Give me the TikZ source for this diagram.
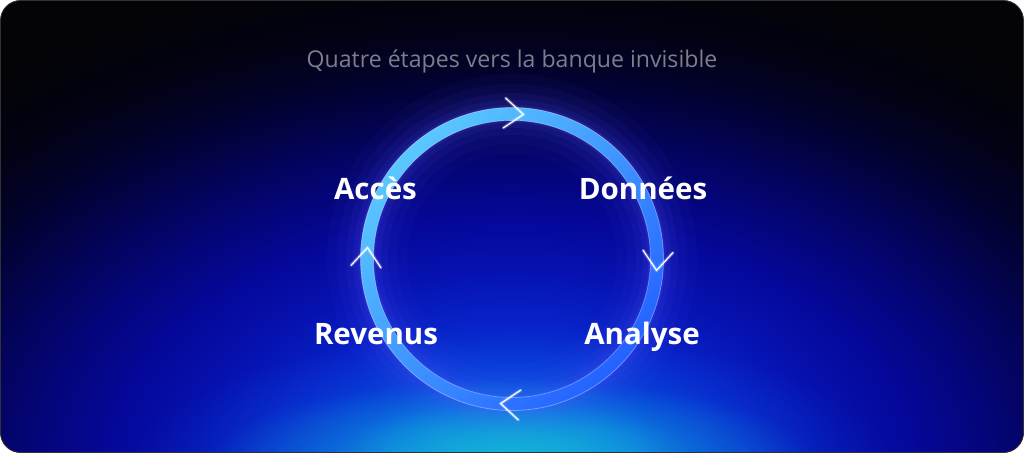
\documentclass[tikz,border=0pt]{standalone}
\usepackage{fontspec}
\setmainfont{Open Sans}
\usetikzlibrary{fadings}
\definecolor{bgdark}{HTML}{030308}
\definecolor{c0}{HTML}{1AB8D8}
\definecolor{c1}{HTML}{1090DC}
\definecolor{c2}{HTML}{0A5EE6}
\definecolor{c3}{HTML}{0838D8}
\definecolor{c4}{HTML}{0822C8}
\definecolor{c5}{HTML}{0612B0}
\definecolor{c6}{HTML}{05089A}
\definecolor{c7}{HTML}{040578}
\definecolor{c8}{HTML}{030352}
\definecolor{c9}{HTML}{02022C}
\definecolor{c10}{HTML}{020212}
\definecolor{c11}{HTML}{030308}
\definecolor{cyanglow}{HTML}{14B4D8}
\definecolor{blueglow}{HTML}{0A6AE8}
\definecolor{ringA}{HTML}{5AC8FF}
\definecolor{ringB}{HTML}{2462FF}
\definecolor{glowc}{HTML}{5A5CFF}
\definecolor{titlegray}{HTML}{7E7E8A}
\pgfdeclareradialshading{bgshade}{\pgfpoint{0bp}{0bp}}{color(0bp)=(c0); color(1.5bp)=(c1); color(3bp)=(c2); color(5bp)=(c3); color(7.5bp)=(c4); color(10bp)=(c5); color(12.5bp)=(c6); color(15bp)=(c7); color(17.5bp)=(c8); color(20bp)=(c9); color(22.5bp)=(c10); color(25bp)=(c11); color(50bp)=(c11)}
\tikzfading[name=softfade, inner color=transparent!0, outer color=transparent!100]
\tikzset{
  lbl/.style={text=white, font=\fontsize{29.5}{32}\selectfont\bfseries, anchor=base, inner sep=0pt},
  ttl/.style={text=titlegray, font=\fontsize{23.1}{26}\selectfont, anchor=base, inner sep=0pt},
  chevglow/.style={white, opacity=0.25, line width=3.5pt, line cap=round, line join=round},
  chevline/.style={white, line width=1.2pt, line cap=round, line join=miter},
}
\begin{document}
\begin{tikzpicture}[x=1pt,y=1pt]
\useasboundingbox (0,0) rectangle (1024,453);
\begin{scope}
  \clip[rounded corners=20pt] (0.5,0.5) rectangle (1023.5,452.5);
  \fill[bgdark] (0,0) rectangle (1024,453);
  \shade[shading=bgshade] (512,-17) ellipse [x radius=800, y radius=500];
  \fill[blueglow, path fading=softfade, fill opacity=0.6] (512,-10) ellipse [x radius=380, y radius=130];
  \fill[cyanglow, path fading=softfade, fill opacity=0.8] (512,-6) ellipse [x radius=300, y radius=80];
  \fill[cyanglow, path fading=softfade, fill opacity=0.7] (512,-4) ellipse [x radius=180, y radius=55];
\end{scope}
\draw[rounded corners=20pt, draw=black!80, line width=0.8pt] (0.5,0.5) rectangle (1023.5,452.5);
\coordinate (c) at (512,194);
% glow
\foreach \w/\o in {80/0.04, 60/0.05, 42/0.07, 28/0.09, 18/0.12} {
  \draw[glowc, line width=\w pt, opacity=\o] (c) circle[radius=145];
}
% ring
\shade[even odd rule, top color=ringA, bottom color=ringB, shading angle=45]
  (c) circle[radius=151.5] (c) circle[radius=138.5];
\draw[white, opacity=0.35, line width=0.8pt] (c) circle[radius=151.5];
\draw[white, opacity=0.3, line width=0.8pt] (c) circle[radius=138.5];
% chevrons
\foreach \a in {85.5, -4.5, 265.5, 175.5} {
  \begin{scope}[shift={(c)}, rotate=\a, shift={(145,0)}, rotate=-90]
    \draw[chevglow] (-19,15) -- (0,0) -- (-19,-15);
    \draw[chevline] (-19,15) -- (0,0) -- (-19,-15);
  \end{scope}
}
% title and labels
\node[ttl] (title) at (512,385) {Quatre étapes vers la banque invisible};
\node[lbl] (acces) at (375.5,254) {Accès};
\node[lbl] (donnees) at (643,254) {Données};
\node[lbl] (revenus) at (376,109) {Revenus};
\node[lbl] (analyse) at (642,109) {Analyse};
\end{tikzpicture}
\end{document}
